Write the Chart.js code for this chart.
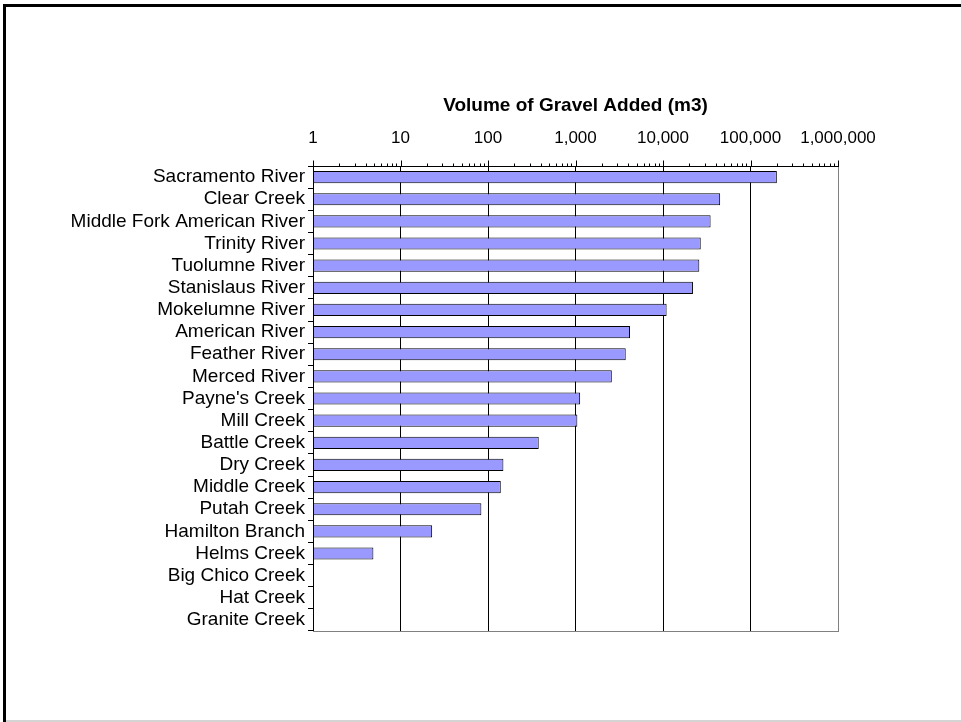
<!DOCTYPE html>
<html>
<head>
<meta charset="utf-8">
<script src="https://cdn.jsdelivr.net/npm/chart.js@4/dist/chart.umd.min.js"></script>
<style>
    html, body { margin: 0; padding: 0; background: #fff; }
    canvas { display: block; }
</style>
</head>
<body>
<canvas id="gravel-chart" width="961" height="722"></canvas>
<script>
// Rivers, top to bottom
const rivers = [
    "Sacramento River", "Clear Creek", "Middle Fork American River", "Trinity River",
    "Tuolumne River", "Stanislaus River", "Mokelumne River", "American River",
    "Feather River", "Merced River", "Payne's Creek", "Mill Creek", "Battle Creek",
    "Dry Creek", "Middle Creek", "Putah Creek", "Hamilton Branch", "Helms Creek",
    "Big Chico Creek", "Hat Creek", "Granite Creek"
];

// Volume of gravel added (m3)
const volumes = [
    200000, 45000, 35000, 27000,
    26000, 22000, 11000, 4200,
    3750, 2600, 1130, 1050, 380,
    150, 140, 84, 23, 4.9,
    null, null, null
];

// Decades shown on the top axis
const decades = [1, 10, 100, 1000, 10000, 100000, 1000000];
const axisTitle = "Volume of Gravel Added (m3)";

const FONT = "'Liberation Sans', Arial, sans-serif";

function isDecade(v) {
    return decades.indexOf(v) !== -1;
}

// Frame around the chart + white background
const framePlugin = {
    id: 'frame',
    beforeDraw: function (chart) {
        const c = chart.ctx;
        c.save();
        c.fillStyle = '#fff';
        c.fillRect(0, 0, chart.width, chart.height);
        c.fillStyle = '#000';
        c.fillRect(3, 4, chart.width - 3, 3);
        c.fillRect(3, 4, 3, chart.height - 4);
        c.fillStyle = '#d4d4d4';
        c.fillRect(6, 720, chart.width - 6, 2);
        c.restore();
    },
    beforeDatasetsDraw: function (chart) {
        // grey plot border at the bottom
        const a = chart.chartArea;
        const c = chart.ctx;
        c.save();
        c.strokeStyle = '#808080';
        c.lineWidth = 1;
        c.beginPath();
        c.moveTo(a.left, Math.round(a.bottom) + 0.5);
        c.lineTo(a.right + 1, Math.round(a.bottom) + 0.5);
        c.stroke();
        c.restore();
    },
    afterDraw: function (chart) {
        // major / minor tick marks on the top log axis
        const x = chart.scales.x;
        const top = Math.round(chart.chartArea.top) + 0.5;
        const c = chart.ctx;
        c.save();
        c.strokeStyle = '#000';
        c.lineWidth = 1;
        c.beginPath();
        x.ticks.forEach(function (t) {
            const px = Math.round(x.getPixelForValue(t.value)) + 0.5;
            const len = isDecade(t.value) ? 6 : 3;
            c.moveTo(px, top);
            c.lineTo(px, top - len);
        });
        c.stroke();
        c.restore();
    }
};

const ctx = document.getElementById('gravel-chart').getContext('2d');
const gravelChart = new Chart(ctx, {
    type: 'bar',
    data: {
        labels: rivers,
        datasets: [{
            label: axisTitle,
            data: volumes,
            backgroundColor: '#9999ff',
            borderColor: '#000',
            borderWidth: 1,
            borderSkipped: false,
            categoryPercentage: 1,
            barPercentage: 0.55
        }]
    },
    options: {
        indexAxis: 'y',
        responsive: false,
        devicePixelRatio: 1,
        animation: false,
        layout: {
            padding: { left: 0, top: 0, right: 123, bottom: 91 }
        },
        plugins: {
            legend: { display: false },
            tooltip: { enabled: false }
        },
        scales: {
            x: {
                type: 'logarithmic',
                position: 'top',
                min: 1,
                max: 1000000,
                afterBuildTicks: function (scale) {
                    const ticks = [];
                    for (let k = 0; k < decades.length - 1; k++) {
                        for (let d = 1; d <= 9; d++) {
                            ticks.push({ value: d * decades[k] });
                        }
                    }
                    ticks.push({ value: decades[decades.length - 1] });
                    scale.ticks = ticks;
                },
                afterFit: function (scale) {
                    scale.height = 166;
                },
                ticks: {
                    autoSkip: false,
                    maxRotation: 0,
                    minRotation: 0,
                    padding: 17,
                    color: '#000',
                    font: { family: FONT, size: 17 },
                    callback: function (value) {
                        return isDecade(value) ? value.toLocaleString('en-US') : '';
                    }
                },
                grid: {
                    drawTicks: false,
                    lineWidth: 1,
                    color: function (c) {
                        if (!c.tick) return 'rgba(0,0,0,0)';
                        if (c.tick.value === 1000000) return '#808080';
                        return isDecade(c.tick.value) ? '#000' : 'rgba(0,0,0,0)';
                    }
                },
                border: { display: true, color: '#000', width: 1 },
                title: {
                    display: true,
                    text: axisTitle,
                    color: '#000',
                    font: { family: FONT, size: 19, weight: 'bold' },
                    padding: { top: 94, bottom: 0 }
                }
            },
            y: {
                afterFit: function (scale) {
                    scale.width = 313;
                },
                ticks: {
                    autoSkip: false,
                    color: '#000',
                    padding: 3,
                    font: { family: FONT, size: 19 }
                },
                grid: {
                    drawOnChartArea: false,
                    drawTicks: true,
                    tickLength: 5,
                    color: '#000'
                },
                border: { display: true, color: '#000', width: 1 }
            }
        }
    },
    plugins: [framePlugin]
});
</script>
</body>
</html>
